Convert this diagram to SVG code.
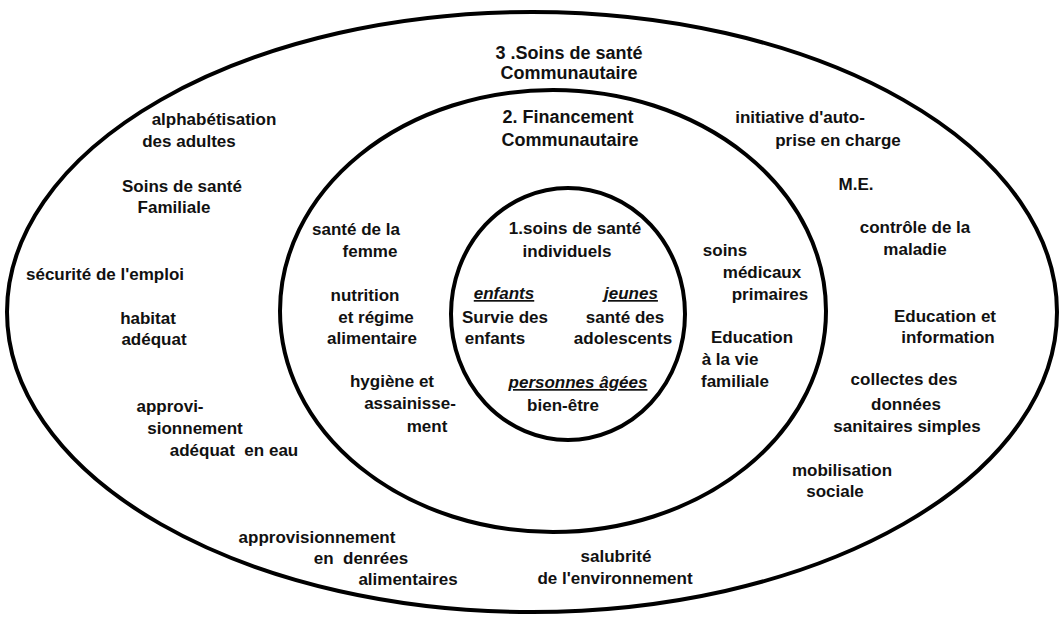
<svg xmlns="http://www.w3.org/2000/svg" width="1061" height="620" viewBox="0 0 1061 620">
<style>
.ring{fill:none;stroke:#000;stroke-width:4}
text{font-family:"Liberation Sans",Arial,sans-serif;font-weight:bold;font-size:17px;fill:#111;text-anchor:middle}
.t{font-size:18px}
.u{font-style:italic;text-decoration:underline}
</style>
<rect width="1061" height="620" fill="#fff"/>
<g id="ring3">
<ellipse class="ring" cx="532" cy="312" rx="525" ry="300"/>
<text class="t" x="569" y="59">3 .Soins de santé</text>
<text class="t" x="569" y="79">Communautaire</text>
<text x="214" y="125">alphabétisation</text>
<text x="189" y="147">des adultes</text>
<text x="182" y="192">Soins de santé</text>
<text x="174" y="213">Familiale</text>
<text x="105" y="280">sécurité de l'emploi</text>
<text x="148" y="324">habitat</text>
<text x="154" y="345">adéquat</text>
<text x="170" y="412">approvi-</text>
<text x="195" y="434">sionnement</text>
<text x="234" y="456" xml:space="preserve">adéquat  en eau</text>
<text x="317" y="543">approvisionnement</text>
<text x="361" y="564" xml:space="preserve">en  denrées</text>
<text x="408" y="585">alimentaires</text>
<text x="616" y="562">salubrité</text>
<text x="615" y="584">de l'environnement</text>
<text x="842" y="476">mobilisation</text>
<text x="835" y="497">sociale</text>
<text x="904" y="385">collectes des</text>
<text x="906" y="410">données</text>
<text x="907" y="432">sanitaires simples</text>
<text x="945" y="322">Education et</text>
<text x="948" y="343">information</text>
<text x="915" y="233">contrôle de la</text>
<text x="915" y="255">maladie</text>
<text x="856" y="190">M.E.</text>
<text x="800" y="123">initiative d'auto-</text>
<text x="838" y="146">prise en charge</text>
</g>
<g id="ring2">
<ellipse class="ring" cx="553" cy="311" rx="273" ry="221"/>
<text class="t" x="568" y="123">2. Financement</text>
<text class="t" x="570" y="146">Communautaire</text>
<text x="356" y="235">santé de la</text>
<text x="370" y="257">femme</text>
<text x="365" y="301">nutrition</text>
<text x="376" y="323">et régime</text>
<text x="372" y="344">alimentaire</text>
<text x="392" y="387">hygiène et</text>
<text x="410" y="409">assainisse-</text>
<text x="427" y="432">ment</text>
<text x="725" y="256">soins</text>
<text x="762" y="278">médicaux</text>
<text x="770" y="300">primaires</text>
<text x="752" y="343">Education</text>
<text x="730" y="365">à la vie</text>
<text x="735" y="387">familiale</text>
</g>
<g id="ring1">
<ellipse class="ring" cx="568" cy="314" rx="117" ry="126" stroke-width="3.5"/>
<text x="575" y="234">1.soins de santé</text>
<text x="567" y="257">individuels</text>
<text class="u" x="504" y="299">enfants</text>
<text class="u" x="631" y="299">jeunes</text>
<text x="505" y="323">Survie des</text>
<text x="495" y="344">enfants</text>
<text x="625" y="323">santé des</text>
<text x="623" y="344">adolescents</text>
<text class="u" x="578" y="388">personnes âgées</text>
<text x="563" y="411">bien-être</text>
</g>
<g id="connectors"/>
</svg>
